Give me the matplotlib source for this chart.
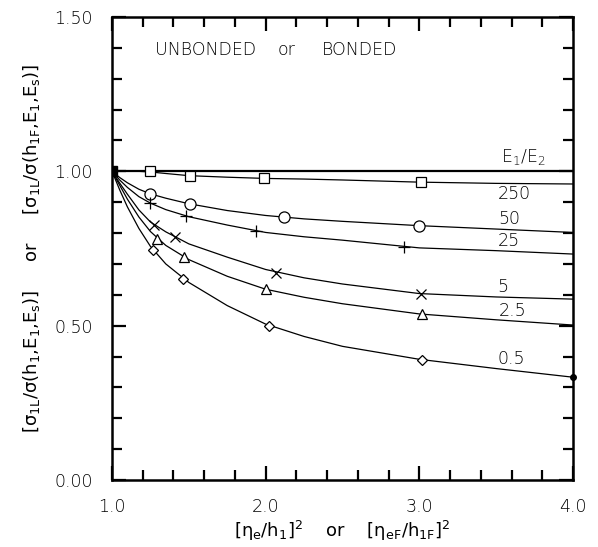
import matplotlib.pyplot as plt
from matplotlib.ticker import MultipleLocator

plt.rcParams['font.family'] = ['DejaVu Sans']
plt.rcParams['font.weight'] = 'light'
plt.rcParams['mathtext.fontset'] = 'custom'
plt.rcParams['mathtext.rm'] = 'DejaVu Sans:light'
plt.rcParams['mathtext.it'] = 'DejaVu Sans:light'
plt.rcParams['mathtext.default'] = 'regular'

# modulus ratios E1/E2
ratios = ['250', '50', '25', '5', '2.5', '0.5']

# curve traces (x = [eta/h]^2)
curve_x = [1.0, 1.05, 1.1, 1.175, 1.25, 1.35, 1.5, 1.75, 2.0, 2.25, 2.5, 3.0, 3.5, 4.0]
curve_250 = [1.0, 1.0, 1.0, 1.0, 0.998, 0.993, 0.986, 0.981, 0.977, 0.975, 0.972, 0.965, 0.961, 0.959]
curve_50 = [1.0, 0.980, 0.963, 0.942, 0.927, 0.913, 0.895, 0.873, 0.857, 0.846, 0.838, 0.824, 0.813, 0.802]
curve_25 = [1.0, 0.972, 0.948, 0.918, 0.897, 0.876, 0.853, 0.826, 0.802, 0.788, 0.777, 0.752, 0.743, 0.732]
curve_5 = [1.0, 0.962, 0.926, 0.875, 0.836, 0.804, 0.765, 0.722, 0.682, 0.655, 0.635, 0.604, 0.593, 0.586]
curve_2p5 = [1.0, 0.955, 0.910, 0.852, 0.805, 0.760, 0.714, 0.660, 0.618, 0.592, 0.571, 0.538, 0.519, 0.502]
curve_0p5 = [1.0, 0.940, 0.885, 0.815, 0.757, 0.700, 0.640, 0.565, 0.505, 0.465, 0.433, 0.391, 0.361, 0.333]

# plotted symbols
pts_250_x = [1.25, 1.51, 1.99, 3.01]
pts_250_y = [1.0, 0.985, 0.977, 0.964]
pts_50_x = [1.25, 1.51, 2.12, 3.0]
pts_50_y = [0.927, 0.894, 0.851, 0.824]
pts_25_x = [1.25, 1.48, 1.94, 2.90]
pts_25_y = [0.898, 0.856, 0.807, 0.755]
pts_5_x = [1.275, 1.41, 2.07, 3.01]
pts_5_y = [0.826, 0.788, 0.670, 0.603]
pts_2p5_x = [1.295, 1.47, 2.0, 3.02]
pts_2p5_y = [0.782, 0.721, 0.618, 0.537]
pts_0p5_x = [1.27, 1.46, 2.02, 3.015]
pts_0p5_y = [0.745, 0.652, 0.500, 0.389]

label_x = [3.62, 3.585, 3.585, 3.546, 3.605, 3.60]
label_y = [0.925, 0.845, 0.775, 0.626, 0.547, 0.392]

curves = [curve_250, curve_50, curve_25, curve_5, curve_2p5, curve_0p5]
points = [(pts_250_x, pts_250_y, 's', 7.5), (pts_50_x, pts_50_y, 'o', 8),
          (pts_25_x, pts_25_y, '+', 9), (pts_5_x, pts_5_y, 'x', 7),
          (pts_2p5_x, pts_2p5_y, '^', 7), (pts_0p5_x, pts_0p5_y, 'D', 5)]

fig = plt.figure(figsize=(5.98, 5.47), dpi=100)
ax = fig.add_axes([0.1873, 0.1225, 0.7709, 0.8464])

ax.plot([1.0, 4.0], [1.0, 1.0], color='black', lw=1.6)
for ys in curves:
    ax.plot(curve_x, ys, color='black', lw=0.9)
for px, py, m, ms in points:
    ax.plot(px, py, linestyle='none', marker=m, markersize=ms,
            markerfacecolor='white', markeredgecolor='black', markeredgewidth=0.9)
ax.plot([1.0], [1.0], marker='s', markersize=7, color='black')
ax.plot([4.0], [curve_0p5[-1]], marker='o', markersize=4, color='black', clip_on=False)

for lbl, lx, ly in zip(ratios, label_x, label_y):
    ax.text(lx, ly, lbl, ha='center', va='center', fontsize=12.5)
ax.text(3.676, 1.047, r'E$_{1}$/E$_{2}$', ha='center', va='center', fontsize=12.5)
ax.text(1.28, 1.393, 'UNBONDED', ha='left', va='center', fontsize=12.5)
ax.text(2.08, 1.393, 'or', ha='left', va='center', fontsize=12.5)
ax.text(2.366, 1.393, 'BONDED', ha='left', va='center', fontsize=12.5)

ax.set_xlim(1.0, 4.0)
ax.set_ylim(0.0, 1.5)
ax.xaxis.set_major_locator(MultipleLocator(1.0))
ax.xaxis.set_minor_locator(MultipleLocator(0.2))
ax.yaxis.set_major_locator(MultipleLocator(0.5))
ax.yaxis.set_minor_locator(MultipleLocator(0.1))
ax.set_xticklabels(['%.1f' % v for v in ax.get_xticks()])
ax.set_yticklabels(['%.2f' % v for v in ax.get_yticks()])
ax.tick_params(which='both', direction='in', top=True, right=True, width=1.6,
               labelsize=12.5)
ax.tick_params(axis='x', pad=13)
ax.tick_params(axis='y', pad=14)
ax.tick_params(which='major', length=10)
ax.tick_params(which='minor', length=7)
for sp in ax.spines.values():
    sp.set_linewidth(1.8)

ax.set_xlabel(r'[η$_{e}$/h$_{1}$]$^{2}$    or    [η$_{eF}$/h$_{1F}$]$^{2}$',
              fontsize=13, labelpad=2)
ax.set_ylabel(r'[σ$_{1L}$/σ(h$_{1}$,E$_{1}$,E$_{s}$)]     or     '
              r'[σ$_{1L}$/σ(h$_{1F}$,E$_{1}$,E$_{s}$)]', fontsize=13, labelpad=9)

fig.savefig('out.png', dpi=100)
